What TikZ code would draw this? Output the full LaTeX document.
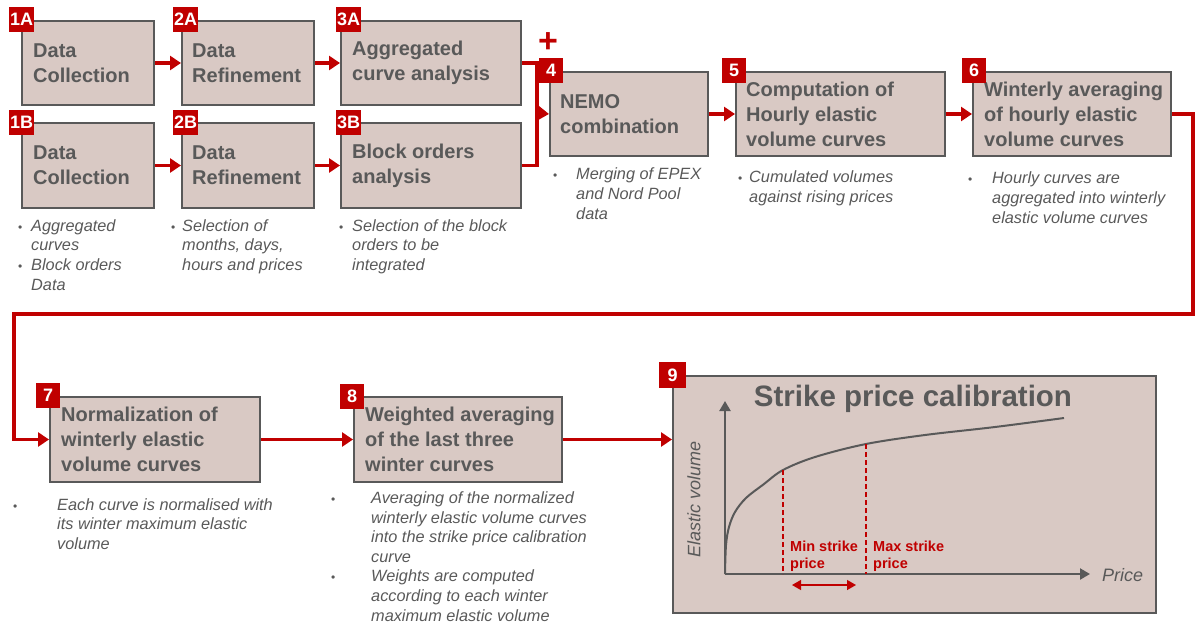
\documentclass[tikz,border=0pt]{standalone}
\usepackage{fontspec}
\setmainfont{Liberation Sans}
\usetikzlibrary{arrows.meta}
\definecolor{boxfill}{RGB}{217,201,196}
\definecolor{boxline}{RGB}{89,89,89}
\definecolor{txtgray}{RGB}{89,89,89}
\definecolor{myred}{RGB}{192,0,0}
\newcommand{\bul}[1]{\llap{\makebox[0pt]{\upshape\fontsize{12}{12}\selectfont •}\hspace{#1pt}}}
\begin{document}
\begin{tikzpicture}[x=1pt,y=-1pt,
  box/.style={draw=boxline, fill=boxfill, line width=2pt, inner sep=0pt, anchor=north west},
  btxt/.style={anchor=west, align=left, inner sep=0pt, text=txtgray, font=\fontsize{20}{25}\selectfont\bfseries},
  badge/.style={fill=myred, text=white, inner sep=0pt, anchor=north west, minimum width=25pt, minimum height=25pt, font=\fontsize{18}{18}\selectfont\bfseries},
  desc/.style={anchor=base west, align=left, inner sep=0pt, text=txtgray, font=\fontsize{16.3}{19.6}\selectfont\itshape},
  arr/.style={draw=myred, line width=3.5pt, -{Triangle[length=11pt,width=14pt]}},
  rline/.style={draw=myred, line width=3.5pt},
  axisarr/.style={draw=txtgray, line width=2.2pt, -{Triangle[length=10pt,width=11pt]}},
  curveln/.style={draw=txtgray, line width=2pt},
  reddash/.style={draw=myred, line width=1.5pt, dash pattern=on 5pt off 3pt},
  redlbl/.style={anchor=base west, align=left, inner sep=0pt, text=myred, font=\fontsize{14.5}{17}\selectfont\bfseries},
  dblarr/.style={draw=myred, line width=1.3pt, {Triangle[length=9pt,width=10pt]}-{Triangle[length=9pt,width=10pt]}},
]
\useasboundingbox (0,0) rectangle (1196,627);

% boxes
\node[box, minimum width=132pt, minimum height=84pt] (b1a) at (21,20) {};
\node[box, minimum width=132pt, minimum height=84pt] (b2a) at (181,20) {};
\node[box, minimum width=180pt, minimum height=84pt] (b3a) at (340,20) {};
\node[box, minimum width=132pt, minimum height=85pt] (b1b) at (21,122) {};
\node[box, minimum width=132pt, minimum height=85pt] (b2b) at (181,122) {};
\node[box, minimum width=180pt, minimum height=85pt] (b3b) at (340,122) {};
\node[box, minimum width=158pt, minimum height=84pt] (b4) at (549,71) {};
\node[box, minimum width=209pt, minimum height=84pt] (b5) at (735,71) {};
\node[box, minimum width=198pt, minimum height=84pt] (b6) at (972,71) {};
\node[box, minimum width=210pt, minimum height=85pt] (b7) at (49,396) {};
\node[box, minimum width=208pt, minimum height=85pt] (b8) at (353,396) {};
\node[box, minimum width=483pt, minimum height=237pt] (b9) at (672,375) {};

% box texts
\node[btxt] (t1a) at ([xshift=12pt]b1a.west) {Data\\Collection};
\node[btxt] (t2a) at ([xshift=11pt]b2a.west) {Data\\Refinement};
\node[btxt] (t3a) at ([xshift=12pt]b3a.west) {Aggregated\\curve analysis};
\node[btxt] (t1b) at ([xshift=12pt]b1b.west) {Data\\Collection};
\node[btxt] (t2b) at ([xshift=11pt]b2b.west) {Data\\Refinement};
\node[btxt] (t3b) at ([xshift=12pt]b3b.west) {Block orders\\analysis};
\node[btxt] (t4) at ([xshift=11pt]b4.west) {NEMO\\combination};
\node[btxt] (t5) at ([xshift=11pt]b5.west) {Computation of\\Hourly elastic\\volume curves};
\node[btxt] (t6) at ([xshift=12pt]b6.west) {Winterly averaging\\of hourly elastic\\volume curves};
\node[btxt] (t7) at ([xshift=12pt]b7.west) {Normalization of\\winterly elastic\\volume curves};
\node[btxt] (t8) at ([xshift=12pt]b8.west) {Weighted averaging\\of the last three\\winter curves};

% badges
\node[badge] (n1a) at (9,7) {1A};
\node[badge] (n2a) at (173,7) {2A};
\node[badge] (n3a) at (336,7) {3A};
\node[badge] (n1b) at (9,110) {1B};
\node[badge] (n2b) at (173,110) {2B};
\node[badge] (n3b) at (336,110) {3B};
\node[badge, minimum width=24pt] (n4) at (539,58) {4};
\node[badge, minimum width=24pt] (n5) at (722,58) {5};
\node[badge, minimum width=24pt] (n6) at (962,58) {6};
\node[badge, minimum width=24pt] (n7) at (36,383) {7};
\node[badge, minimum width=24pt] (n8) at (340,384) {8};
\node[badge, minimum width=27pt, minimum height=26pt] (n9) at (659,362) {9};

% plus sign
\node[inner sep=0pt, text=myred, font=\fontsize{34}{34}\selectfont\bfseries] (plus) at (548,43) {+};

% connectors
\draw[arr] (b1a.east) -- (b2a.west);
\draw[arr] (b2a.east) -- (b3a.west);
\draw[arr] (b1b.east) -- (b2b.west);
\draw[arr] (b2b.east) -- (b3b.west);
\coordinate (jn) at (537,113);
\draw[rline] (b3a.east) -| (jn) |- (b3b.east);
\draw[arr] (jn) -- (b4.west);
\draw[arr] (b4.east) -- (b5.west);
\draw[arr] (b5.east) -- (b6.west);
\coordinate (r1) at (1193,314);
\coordinate (r2) at (14,314);
\draw[arr] (b6.east) -| (r1) -- (r2) |- (b7.west);
\draw[arr] (b7.east) -- (b8.west);
\draw[arr] (b8.east) -- (b8.east -| b9.west);

% descriptions (anchored at the baseline of the last line)
\node[desc] (d1b) at (31,290) {\bul{11}Aggregated\\curves\\\bul{11}Block orders\\Data};
\node[desc] (d2b) at (182,270.5) {\bul{9}Selection of\\months, days,\\hours and prices};
\node[desc] (d3b) at (352,270.5) {\bul{11}Selection of the block\\orders to be\\integrated};
\node[desc] (d4) at (576,219) {\bul{21}Merging of EPEX\\and Nord Pool\\data};
\node[desc] (d5) at (749,202.5) {\bul{9}Cumulated volumes\\against rising prices};
\node[desc] (d6) at (992,223) {\bul{22}Hourly curves are\\aggregated into winterly\\elastic volume curves};
\node[desc] (d7) at (57,549.5) {\bul{42}Each curve is normalised with\\its winter maximum elastic\\volume};
\node[desc] (d8) at (371,621) {\bul{38}Averaging of the normalized\\winterly elastic volume curves\\into the strike price calibration\\curve\\\bul{38}Weights are computed\\according to each winter\\maximum elastic volume};

% chart
\node[anchor=base, inner sep=0pt, text=txtgray, font=\fontsize{29.5}{30}\selectfont\bfseries] (ttl) at (913,406) {Strike price calibration};
\coordinate (o) at (725,574);
\coordinate (ytop) at (725,401);
\coordinate (xend) at (1090,574);
\draw[axisarr] (o) -- (ytop);
\draw[axisarr] (o) -- (xend);
\node[anchor=base west, inner sep=0pt, text=txtgray, font=\fontsize{18}{18}\selectfont\itshape] (px) at (1102,581) {Price};
\node[rotate=90, inner sep=0pt, text=txtgray, font=\fontsize{18}{18}\selectfont\itshape] (ev) at (694,499) {Elastic volume};
\draw[curveln] plot[smooth, tension=0.55] coordinates {(725,574) (726,545) (729,527) (735,512) (746,498) (764,484) (783,470) (815,457) (866,444) (925,435) (995,427) (1064,418)};
\draw[reddash] (783,470) -- (783,574);
\draw[reddash] (866,444) -- (866,574);
\node[redlbl] (minl) at (790,568) {Min strike\\price};
\node[redlbl] (maxl) at (873,568) {Max strike\\price};
\coordinate (da) at (792,585);
\coordinate (db) at (856,585);
\draw[dblarr] (da) -- (db);
\end{tikzpicture}
\end{document}
